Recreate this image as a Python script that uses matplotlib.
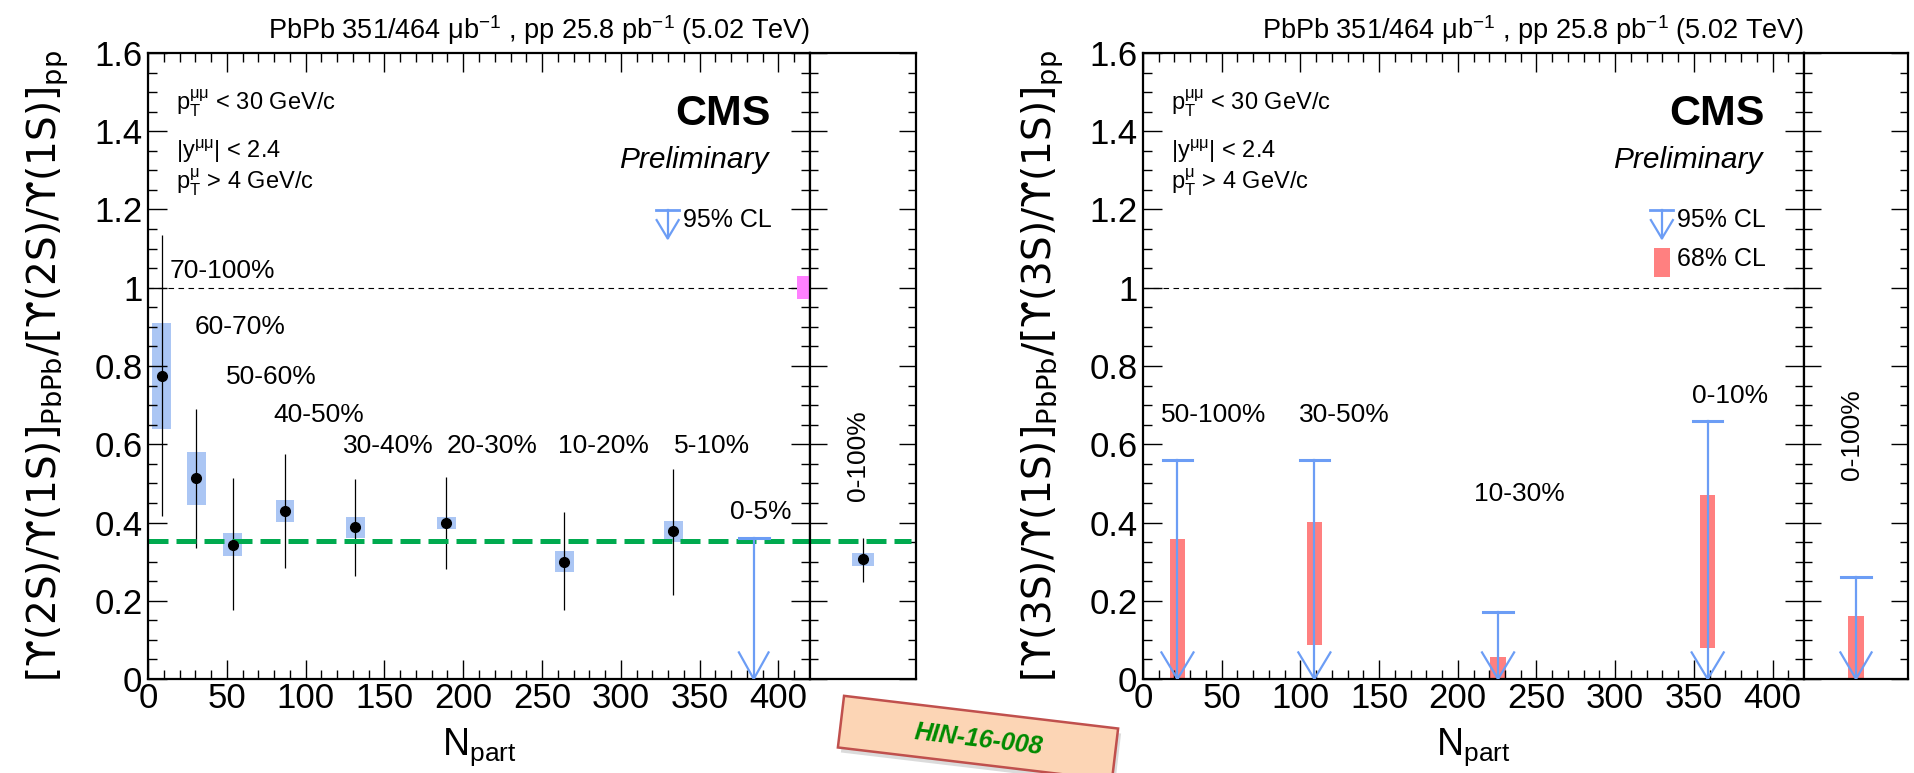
import matplotlib
matplotlib.use('Agg')
import matplotlib.pyplot as plt
from matplotlib.ticker import MultipleLocator, FuncFormatter
from matplotlib.patches import Rectangle

plt.rcParams['font.family'] = ['Liberation Sans', 'DejaVu Sans']
plt.rcParams['mathtext.fontset'] = 'custom'
plt.rcParams['mathtext.rm'] = 'Liberation Sans'
plt.rcParams['mathtext.it'] = 'Liberation Sans:italic'
plt.rcParams['mathtext.bf'] = 'Liberation Sans:bold'

# ---- Upsilon(2S)/Upsilon(1S) double ratio vs Npart
npart_2s = [8.8, 30.5, 53.8, 86.9, 131.4, 189.2, 264.2, 333.3]
ratio_2s = [0.775, 0.513, 0.343, 0.430, 0.389, 0.398, 0.300, 0.378]
stat_hi_2s = [1.134, 0.689, 0.513, 0.574, 0.511, 0.517, 0.426, 0.538]
stat_lo_2s = [0.417, 0.336, 0.177, 0.284, 0.264, 0.280, 0.177, 0.214]
syst_hi_2s = [0.911, 0.581, 0.374, 0.457, 0.414, 0.414, 0.326, 0.403]
syst_lo_2s = [0.640, 0.445, 0.315, 0.402, 0.361, 0.384, 0.274, 0.351]
cent_2s = ['70-100%', '60-70%', '50-60%', '40-50%', '30-40%', '20-30%',
           '10-20%', '5-10%', '0-5%']
ul_npart_2s = [384.3]
ul95_2s = [0.361]
# centrality integrated 0-100%
int_2s = 0.306
int_2s_stat = [0.249, 0.361]
int_2s_syst = [0.290, 0.323]
fit_2s = 0.352
glob_unc = [0.97, 1.03]

# ---- Upsilon(3S)/Upsilon(1S): only limits
npart_3s = [21.9, 108.9, 225.6, 358.8]
ul95_3s = [0.561, 0.561, 0.170, 0.660]
cl68_lo_3s = [0.0, 0.088, 0.0, 0.078]
cl68_hi_3s = [0.359, 0.400, 0.055, 0.470]
cent_3s = ['50-100%', '30-50%', '10-30%', '0-10%']
int_3s_ul95 = 0.260
int_3s_cl68 = [0.0, 0.160]

# label positions (Npart, y)
pos_2s = [(14, 1.043), (29.5, 0.900), (49.5, 0.772), (79.3, 0.674), (123.7, 0.596),
          (189.4, 0.596), (260, 0.596), (333.5, 0.596), (369, 0.426)]
pos_3s = [(11.6, 0.674), (99, 0.674), (210, 0.474), (348.7, 0.723)]

blue = '#6c9df5'
box_blue = '#abc6f4'
red = '#ff8080'
green = '#00aa4f'
pink = '#ff80ff'

W, H = 1914, 773
fig = plt.figure(figsize=(W / 100, H / 100), dpi=100)
bot, hgt = 94 / H, 626 / H
axL = fig.add_axes([148 / W, bot, 662 / W, hgt])
axLi = fig.add_axes([810 / W, bot, 106 / W, hgt])
axR = fig.add_axes([1143 / W, bot, 661 / W, hgt])
axRi = fig.add_axes([1804 / W, bot, 104 / W, hgt])

fmt = FuncFormatter(lambda v, p: '%g' % round(v, 3))


def style(ax, inset=False):
    ax.set_ylim(0, 1.6)
    ax.yaxis.set_major_locator(MultipleLocator(0.2))
    ax.yaxis.set_minor_locator(MultipleLocator(0.05))
    for s in ax.spines.values():
        s.set_linewidth(1.6)
    if inset:
        ax.set_xlim(0, 1)
        ax.tick_params(axis='x', which='both', bottom=False, top=False, labelbottom=False)
        ax.tick_params(axis='y', which='both', direction='in', left=True, right=True,
                       labelleft=False, width=1.0)
        ax.tick_params(axis='y', which='major', length=12)
        ax.tick_params(axis='y', which='minor', length=6)
        return
    ax.set_xlim(0, 420)
    ax.xaxis.set_major_locator(MultipleLocator(50))
    ax.xaxis.set_minor_locator(MultipleLocator(10))
    ax.xaxis.set_major_formatter(fmt)
    ax.yaxis.set_major_formatter(fmt)
    ax.tick_params(which='both', direction='in', top=True, right=True, width=1.0,
                   labelsize=25)
    ax.tick_params(which='major', length=13.5)
    ax.tick_params(which='minor', length=6.5)
    ax.tick_params(axis='x', pad=2)
    ax.tick_params(axis='y', pad=4)
    ax.text(0.5, -76 / 626, r'N$_{\mathrm{part}}$', transform=ax.transAxes,
            ha='center', va='baseline', fontsize=27)
    ax.text(1.0, 1 + 14 / 626, r'PbPb 351/464 μb$^{-1}$ , pp 25.8 pb$^{-1}$ (5.02 TeV)',
            transform=ax.transAxes, ha='right', va='baseline', fontsize=19.5)
    ax.text(17.8, 1.452, r'p$_{\mathrm{T}}^{\mathrm{μμ}}$ < 30 GeV/c', fontsize=17, va='baseline')
    ax.text(17.8, 1.332, r'|y$^{\mathrm{μμ}}$| < 2.4', fontsize=17, va='baseline')
    ax.text(17.8, 1.250, r'p$_{\mathrm{T}}^{\mathrm{μ}}$ > 4 GeV/c', fontsize=17, va='baseline')
    ax.text(395, 1.416, 'CMS', fontweight='bold', fontsize=31, ha='right', va='baseline')
    ax.text(393.5, 1.306, 'Preliminary', style='italic', fontsize=21.5, ha='right',
            va='baseline')
    ax.axhline(1.0, color='k', lw=0.8, ls=(0, (5, 4)))
    # legend arrow for 95% CL
    lx = 329.7
    ax.plot([lx - 7.3, lx + 7.3], [1.2, 1.2], color=blue, lw=2.0)
    ax.plot([lx, lx], [1.2, 1.126], color=blue, lw=1.6)
    ax.plot([lx - 7, lx, lx + 7], [1.173, 1.126, 1.173], color=blue, lw=1.6)
    ax.text(339.4, 1.173, '95% CL', fontsize=18, va='center')


def upper_limit(ax, x, y, cap, head_w):
    ax.plot([x, x], [0, y], color=blue, lw=1.6, zorder=4)
    ax.plot([x - cap, x + cap], [y, y], color=blue, lw=2.2, zorder=4)
    ax.plot([x - head_w, x, x + head_w], [0.068, 0, 0.068], color=blue, lw=1.6, zorder=4)


ylab = r'$[\mathrm{ϒ(%s)/ϒ(1S)}]_{\mathrm{PbPb}}/[\mathrm{ϒ(%s)/ϒ(1S)}]_{\mathrm{pp}}$'

for ax, axi, st in [(axL, axLi, '2S'), (axR, axRi, '3S')]:
    style(ax)
    style(axi, inset=True)
    ax.text(-0.152, 0.5, ylab % (st, st), transform=ax.transAxes, rotation=90,
            ha='center', va='center', fontsize=28, family='DejaVu Sans',
            math_fontfamily='dejavusans')

# ---- left panel
axL.bar(npart_2s, [h - l for h, l in zip(syst_hi_2s, syst_lo_2s)], bottom=syst_lo_2s,
        width=12, color=box_blue, lw=0, zorder=1)
axL.vlines(npart_2s, stat_lo_2s, stat_hi_2s, color='k', lw=0.9, zorder=2)
axL.plot(npart_2s, ratio_2s, 'o', color='k', ms=7, zorder=3)
axL.axhline(fit_2s, color=green, lw=3.6, ls=(0, (4, 1.6)), zorder=2)
axL.bar([416], [glob_unc[1] - glob_unc[0]], bottom=glob_unc[0], width=8, color=pink,
        lw=0, zorder=3)
for x, y in zip(ul_npart_2s, ul95_2s):
    upper_limit(axL, x, y, 9.4, 9.4)
for t, (x, y) in zip(cent_2s, pos_2s):
    axL.text(x, y, t, fontsize=19, va='center', ha='left')

axLi.bar([0.5], [int_2s_syst[1] - int_2s_syst[0]], bottom=int_2s_syst[0], width=0.2,
         color=box_blue, lw=0, zorder=1)
axLi.vlines([0.5], int_2s_stat[0], int_2s_stat[1], color='k', lw=0.9, zorder=2)
axLi.plot([0.5], [int_2s], 'o', color='k', ms=7, zorder=3)
axLi.plot([0, 0.95], [fit_2s, fit_2s], color=green, lw=3.6, ls=(0, (4, 1.6)), zorder=2)
axLi.text(0.456, 0.571, '0-100%', rotation=90, fontsize=19, ha='center', va='center')

# ---- right panel
axR.bar(npart_3s, [h - l for h, l in zip(cl68_hi_3s, cl68_lo_3s)], bottom=cl68_lo_3s,
        width=9.6, color=red, lw=0, zorder=1)
for x, y in zip(npart_3s, ul95_3s):
    upper_limit(axR, x, y, 9.4, 10.2)
for t, (x, y) in zip(cent_3s, pos_3s):
    axR.text(x, y, t, fontsize=19, va='center', ha='left')
axR.bar([329.8], [0.074], bottom=1.028, width=9.7, color=red, lw=0)
axR.text(339.4, 1.073, '68% CL', fontsize=18, va='center')

axRi.bar([0.5], [int_3s_cl68[1] - int_3s_cl68[0]], bottom=int_3s_cl68[0], width=0.16,
         color=red, lw=0, zorder=1)
upper_limit(axRi, 0.5, int_3s_ul95, 0.14, 0.15)
axRi.text(0.457, 0.625, '0-100%', rotation=90, fontsize=19, ha='center', va='center')

# ---- HIN stamp
ov = fig.add_axes([0, 0, 1, 1], zorder=10)
ov.set_xlim(0, W)
ov.set_ylim(H, 0)
ov.axis('off')
cx, cy, bw, bh, ang = 978, 738, 276, 52, 6.8
ov.add_patch(Rectangle((cx - bw / 2 + 3, cy - bh / 2 + 5), bw, bh, angle=ang,
                       rotation_point='center', fc='#999999', ec='none', alpha=0.35))
ov.add_patch(Rectangle((cx - bw / 2, cy - bh / 2), bw, bh, angle=ang,
                       rotation_point='center', fc='#fcd5b5', ec='#c0504d', lw=1.8))
ov.text(cx, cy + 2, 'HIN-16-008', rotation=-ang, ha='center', va='center',
        color='#008a00', fontsize=18, fontweight='bold', style='italic')

fig.savefig('out.png', dpi=100)
